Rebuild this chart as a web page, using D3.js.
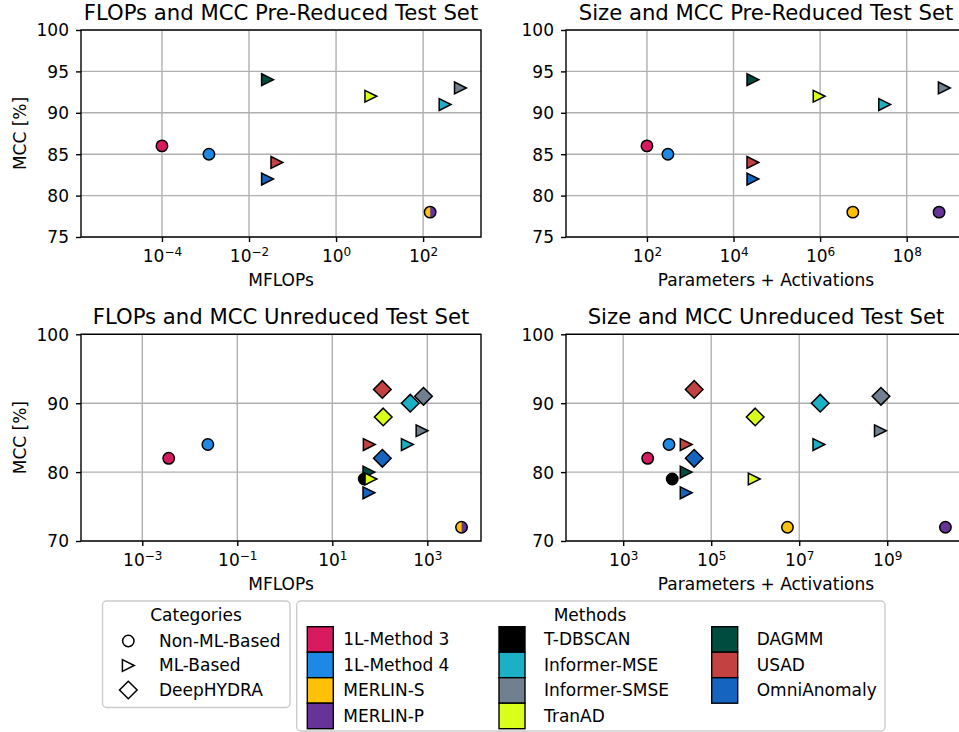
<!DOCTYPE html>
<html><head><meta charset="utf-8">
<script src="https://cdn.jsdelivr.net/npm/d3@7"></script>
<style>
body{margin:0;background:#fff}
svg{display:block}
text{font-family:"DejaVu Sans",sans-serif;fill:#000}
</style>
</head><body>
<svg id="c" width="959" height="732"></svg>
<script>
// ---------- data ----------
const methods = ["1L-Method 3","1L-Method 4","MERLIN-S","MERLIN-P","T-DBSCAN","Informer-MSE","Informer-SMSE","TranAD","DAGMM","USAD","OmniAnomaly"];
const methodColors = ["#d81b60","#1e88e5","#ffc107","#663399","#000000","#1bb0c5","#708090","#d9ff1a","#004d40","#c44142","#1565c0"];
const categories = ["Non-ML-Based","ML-Based","DeepHYDRA"];
const categoryShapes = ["circle","triangle","diamond"];

// [method, category, x, MCC %]  (MERLIN-S|MERLIN-P = one half-filled marker)
const flopsPre = [
  ["1L-Method 3","Non-ML-Based",1e-4,86],
  ["1L-Method 4","Non-ML-Based",1.2e-3,85],
  ["MERLIN-S|MERLIN-P","Non-ML-Based",145,78],
  ["DAGMM","ML-Based",0.0266,94],
  ["USAD","ML-Based",0.0437,84],
  ["OmniAnomaly","ML-Based",0.0266,82],
  ["Informer-MSE","ML-Based",320,91],
  ["Informer-SMSE","ML-Based",720,93],
  ["TranAD","ML-Based",6.3,92]
];
const sizePre = [
  ["1L-Method 3","Non-ML-Based",100,86],
  ["1L-Method 4","Non-ML-Based",305,85],
  ["MERLIN-S","Non-ML-Based",5.7e6,78],
  ["MERLIN-P","Non-ML-Based",5.6e8,78],
  ["DAGMM","ML-Based",2.8e4,94],
  ["USAD","ML-Based",2.8e4,84],
  ["OmniAnomaly","ML-Based",2.8e4,82],
  ["Informer-MSE","ML-Based",3.1e7,91],
  ["Informer-SMSE","ML-Based",7.4e8,93],
  ["TranAD","ML-Based",9.5e5,92]
];
const flopsUnred = [
  ["1L-Method 3","Non-ML-Based",0.0036,82],
  ["1L-Method 4","Non-ML-Based",0.024,84],
  ["MERLIN-S|MERLIN-P","Non-ML-Based",5250,72],
  ["DAGMM","ML-Based",59,80],
  ["USAD","ML-Based",60,84],
  ["OmniAnomaly","ML-Based",59,77],
  ["T-DBSCAN","Non-ML-Based",47,79],
  ["Informer-MSE","ML-Based",380,84],
  ["Informer-SMSE","ML-Based",775,86],
  ["TranAD","ML-Based",65,79],
  ["USAD","DeepHYDRA",113,92],
  ["Informer-MSE","DeepHYDRA",437,90],
  ["Informer-SMSE","DeepHYDRA",830,91],
  ["TranAD","DeepHYDRA",118,88],
  ["OmniAnomaly","DeepHYDRA",113,82]
];
const sizeUnred = [
  ["1L-Method 3","Non-ML-Based",3600,82],
  ["1L-Method 4","Non-ML-Based",11000,84],
  ["MERLIN-S","Non-ML-Based",5.4e6,72],
  ["MERLIN-P","Non-ML-Based",2.1e10,72],
  ["DAGMM","ML-Based",2.7e4,80],
  ["USAD","ML-Based",2.7e4,84],
  ["OmniAnomaly","ML-Based",2.7e4,77],
  ["T-DBSCAN","Non-ML-Based",1.3e4,79],
  ["Informer-MSE","ML-Based",2.8e7,84],
  ["Informer-SMSE","ML-Based",7e8,86],
  ["TranAD","ML-Based",9.5e5,79],
  ["USAD","DeepHYDRA",4.1e4,92],
  ["Informer-MSE","DeepHYDRA",3e7,90],
  ["Informer-SMSE","DeepHYDRA",7.2e8,91],
  ["TranAD","DeepHYDRA",1e6,88],
  ["OmniAnomaly","DeepHYDRA",4.1e4,82]
];

const titles = ["FLOPs and MCC Pre-Reduced Test Set","Size and MCC Pre-Reduced Test Set","FLOPs and MCC Unreduced Test Set","Size and MCC Unreduced Test Set"];
const xLabels = ["MFLOPs","Parameters + Activations","MFLOPs","Parameters + Activations"];
const xTickExps = [[-4,-2,0,2],[2,4,6,8],[-3,-1,1,3],[3,5,7,9]];
const xDomainExps = [[-5.86,3.33],[0.13,9.37],[-4.29,4.13],[1.70,10.79]];
const yTicksPre = [75,80,85,90,95,100];
const yTicksUnred = [70,80,90,100];

// ---------- layout ----------
const svg = d3.select("#c");
const FS = 17;
const boxes = [
  {x:81,y:30,w:400,h:207},
  {x:566,y:30,w:400,h:207},
  {x:81,y:334.3,w:400,h:206.7},
  {x:566,y:334.3,w:400,h:206.7}
];
const panelData = [flopsPre,sizePre,flopsUnred,sizeUnred];
const panelYTicks = [yTicksPre,yTicksPre,yTicksUnred,yTicksUnred];
const color = d3.scaleOrdinal().domain(methods).range(methodColors);
const R = 5.7, T = 5.9, D = 8.8;

function shapePath(shape){
  if(shape==="triangle") return `M${T},0L${-T},${-T}L${-T},${T}Z`;
  if(shape==="diamond") return `M0,${-D}L${D},0L0,${D}L${-D},0Z`;
  return `M${R},0A${R},${R} 0 1,1 ${-R},0A${R},${R} 0 1,1 ${R},0Z`;
}
function supLabel(sel, exp){
  sel.append("tspan").text("10");
  sel.append("tspan").attr("font-size",12).attr("dy",-6.5).text(exp<0 ? "\u2212"+(-exp) : String(exp));
}

panelData.forEach((data,i)=>{
  const b = boxes[i];
  const x = d3.scaleLog().domain(xDomainExps[i].map(e=>Math.pow(10,e))).range([b.x,b.x+b.w]);
  const yT = panelYTicks[i];
  const y = d3.scaleLinear().domain([yT[0],yT[yT.length-1]]).range([b.y+b.h,b.y]);
  const g = svg.append("g");
  const xt = xTickExps[i].map(e=>Math.pow(10,e));

  // grid
  g.selectAll(".gx").data(xt).join("line")
    .attr("x1",d=>x(d)).attr("x2",d=>x(d)).attr("y1",b.y).attr("y2",b.y+b.h)
    .attr("stroke","#b0b0b0").attr("stroke-width",1.4);
  g.selectAll(".gy").data(yT).join("line")
    .attr("x1",b.x).attr("x2",b.x+b.w).attr("y1",d=>y(d)).attr("y2",d=>y(d))
    .attr("stroke","#b0b0b0").attr("stroke-width",1.4);

  // axes via d3
  const xa = g.append("g").attr("transform",`translate(0,${b.y+b.h})`)
    .call(d3.axisBottom(x).tickValues(xt).tickSize(5).tickFormat(""));
  xa.select(".domain").remove();
  xa.selectAll(".tick line").attr("stroke","#000").attr("stroke-width",1.4);
  xa.selectAll(".tick").append("text").attr("y",25).attr("text-anchor","middle")
    .attr("font-size",FS).attr("fill","#000")
    .each(function(d){ supLabel(d3.select(this), Math.round(Math.log10(d))); });

  const ya = g.append("g").attr("transform",`translate(${b.x},0)`)
    .call(d3.axisLeft(y).tickValues(yT).tickSize(5).tickPadding(7).tickFormat(d3.format("d")));
  ya.select(".domain").remove();
  ya.selectAll(".tick line").attr("stroke","#000").attr("stroke-width",1.4);
  ya.selectAll(".tick text").attr("font-size",FS).attr("font-family","DejaVu Sans").attr("fill","#000").attr("dy","0.35em");

  // spines
  g.append("rect").attr("x",b.x).attr("y",b.y).attr("width",b.w).attr("height",b.h)
    .attr("fill","none").attr("stroke","#000").attr("stroke-width",1.4);

  // title + labels
  g.append("text").attr("x",b.x+b.w/2).attr("y",b.y-10).attr("text-anchor","middle")
    .attr("font-size",21.2).text(titles[i]);
  g.append("text").attr("x",b.x+b.w/2).attr("y",b.y+b.h+49).attr("text-anchor","middle")
    .attr("font-size",FS).text(xLabels[i]);
  if(i%2===0){
    g.append("text").attr("transform",`translate(26,${b.y+b.h/2}) rotate(-90)`)
      .attr("text-anchor","middle").attr("font-size",FS).text("MCC [%]");
  }

  // points
  const pts = g.append("g");
  data.forEach(d=>{
    const [m,cat,xv,yv] = d;
    const shape = categoryShapes[categories.indexOf(cat)];
    const pg = pts.append("g").attr("transform",`translate(${x(xv)},${y(yv)})`);
    if(m.includes("|")){
      const [a,bm] = m.split("|");
      pg.append("path").attr("d",`M0,${-R}A${R},${R} 0 0,0 0,${R}Z`).attr("fill",color(a));
      pg.append("path").attr("d",`M0,${-R}A${R},${R} 0 0,1 0,${R}Z`).attr("fill",color(bm));
      pg.append("path").attr("d",shapePath("circle")).attr("fill","none").attr("stroke","#000").attr("stroke-width",1.5);
    } else {
      pg.append("path").attr("d",shapePath(shape)).attr("fill",color(m))
        .attr("stroke","#000").attr("stroke-width",1.5).attr("stroke-linejoin","miter");
    }
  });
});

// ---------- legends ----------
const lg1 = svg.append("g");
lg1.append("rect").attr("x",102.5).attr("y",601).attr("width",187.5).attr("height",106.5).attr("rx",4)
  .attr("fill","#fff").attr("stroke","#cccccc").attr("stroke-width",1.4);
lg1.append("text").attr("x",196).attr("y",620.5).attr("text-anchor","middle").attr("font-size",FS).text("Categories");
categories.forEach((c,k)=>{
  const cy = 641 + k*24.5;
  lg1.append("path").attr("transform",`translate(128.3,${cy})`).attr("d",shapePath(categoryShapes[k]))
    .attr("fill","none").attr("stroke","#000").attr("stroke-width",1.5);
  lg1.append("text").attr("x",159).attr("y",cy+5.5).attr("font-size",FS).text(c);
});

const lg2 = svg.append("g");
lg2.append("rect").attr("x",296.7).attr("y",601).attr("width",588.3).attr("height",130).attr("rx",4)
  .attr("fill","#fff").attr("stroke","#cccccc").attr("stroke-width",1.4);
lg2.append("text").attr("x",590).attr("y",620.5).attr("text-anchor","middle").attr("font-size",FS).text("Methods");
const colPatchX = [307.3,499,711.7], colTextX = [343.3,544,756.7];
methods.forEach((m,k)=>{
  const col = k<4 ? 0 : (k<8 ? 1 : 2);
  const row = k<4 ? k : (k<8 ? k-4 : k-8);
  const top = 626.7 + row*25.5;
  lg2.append("rect").attr("x",colPatchX[col]).attr("y",top).attr("width",26).attr("height",25.5)
    .attr("fill",color(m)).attr("stroke","#000").attr("stroke-width",1.4);
  lg2.append("text").attr("x",colTextX[col]).attr("y",top+12.75+5.8).attr("font-size",FS).text(m);
});
</script>
</body></html>
